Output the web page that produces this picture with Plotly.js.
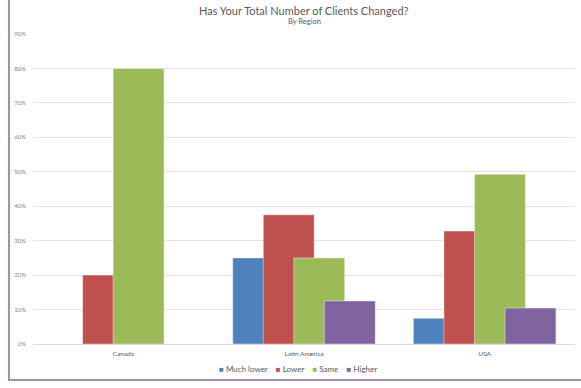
<!DOCTYPE html>
<html>
<head>
<meta charset="utf-8">
<script src="https://cdn.plot.ly/plotly-3.0.1.min.js"></script>
<style>
  html, body { margin: 0; padding: 0; background: #fff; }
  #wrap { position: relative; width: 581px; height: 388px; }
  #chart { width: 581px; height: 388px; }
  #frame {
    position: absolute; left: 8px; top: 0; width: 573px; height: 379px;
    border-left: 2px solid #a88daf; border-bottom: 2px solid #a88daf;
    pointer-events: none;
  }
</style>
</head>
<body>
<div id="wrap">
  <div id="chart"></div>
  <div id="frame"></div>
</div>
<script>
// Share of respondents by change in client count, per region
const regions = ['Canada', 'Latin America', 'USA'];
const seriesNames = ['Much lower', 'Lower', 'Same', 'Higher'];
const muchLower = [0, 0.25, 0.0746];
const lower     = [0.20, 0.375, 0.328];
const same      = [0.80, 0.25, 0.4925];
const higher    = [0, 0.125, 0.1045];
const seriesColors = ['#4f81bd', '#c0504d', '#9bbb59', '#8064a2'];

const values = [muchLower, lower, same, higher];

// Overlapping columns: each series shifted by a fixed step within its group
const barWidth = 0.282;
const barStep = 0.169;
const groupStart = -(3 * barStep + barWidth) / 2;

const traces = values.map((vals, i) => ({
  type: 'bar',
  name: seriesNames[i],
  x: regions,
  y: vals.map(v => (v > 0 ? v : null)),
  width: barWidth,
  offset: groupStart + i * barStep,
  marker: { color: seriesColors[i], line: { color: 'rgba(255,255,255,0.55)', width: 0.8 } },
  showlegend: false,
  hoverinfo: 'skip'
}));

const font = 'Lato, "Open Sans", "Liberation Sans", sans-serif';

// Compact legend row: small colour squares followed by the series name
const legendText = seriesNames.map((name, i) =>
  '<span style="color:' + seriesColors[i] + ';font-size:8px">■</span> ' + name
).join('&nbsp;&nbsp;&nbsp;&nbsp;');

const layout = {
  width: 581,
  height: 388,
  margin: { l: 33, r: 6, t: 34, b: 44 },
  paper_bgcolor: '#ffffff',
  plot_bgcolor: '#ffffff',
  barmode: 'overlay',
  showlegend: false,
  font: { family: font, color: '#595959' },
  xaxis: {
    type: 'category',
    showgrid: false,
    showline: false,
    zeroline: false,
    ticks: '',
    tickfont: { size: 6.5, color: '#595959' },
    ticklabelstandoff: 4,
    fixedrange: true
  },
  yaxis: {
    range: [0, 0.9],
    dtick: 0.1,
    tickformat: '.0%',
    showgrid: true,
    gridcolor: '#e4e4e4',
    gridwidth: 1,
    zeroline: true,
    zerolinecolor: '#d9d9d9',
    zerolinewidth: 1,
    showline: false,
    ticks: '',
    tickfont: { size: 6, color: '#7f7f7f' },
    ticklabelstandoff: 6,
    fixedrange: true
  },
  annotations: [
    {
      text: 'Has Your Total Number of Clients Changed?',
      xref: 'paper', yref: 'paper',
      x: 0.5, y: (344 - 10) / 310, xanchor: 'center', yanchor: 'middle',
      showarrow: false,
      font: { size: 11, color: '#595959', family: font }
    },
    {
      text: 'By Region',
      xref: 'paper', yref: 'paper',
      x: 0.5, y: (344 - 21.5) / 310, xanchor: 'center', yanchor: 'middle',
      showarrow: false,
      font: { size: 7.5, color: '#595959', family: font }
    },
    {
      text: legendText,
      xref: 'paper', yref: 'paper',
      x: (297.5 - 33) / 542, y: (344 - 369) / 310, xanchor: 'center', yanchor: 'middle',
      showarrow: false,
      font: { size: 8, color: '#595959', family: font }
    }
  ]
};

Plotly.newPlot('chart', traces, layout, { staticPlot: true, displayModeBar: false });
</script>
</body>
</html>
